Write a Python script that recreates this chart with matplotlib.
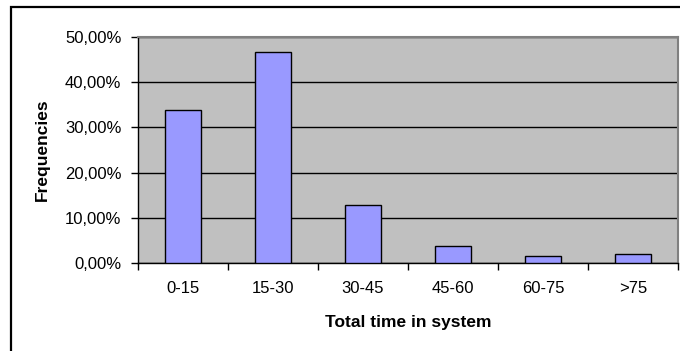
import matplotlib
matplotlib.use("Agg")
import matplotlib.pyplot as plt
from matplotlib.patches import Rectangle
from matplotlib.ticker import FixedLocator, FuncFormatter
import numpy as np

# frequency distribution of total time spent in the system
categories = ["0-15", "15-30", "30-45", "45-60", "60-75", ">75"]
frequencies = [33.8, 46.6, 12.9, 3.7, 1.55, 1.9]   # percent
y_ticks = [0, 10, 20, 30, 40, 50]

plt.rcParams["font.family"] = ["Liberation Sans", "DejaVu Sans"]

fig = plt.figure(figsize=(6.8, 3.51), dpi=100)
ax = fig.add_axes([138 / 680, 88 / 351, 540 / 680, 226 / 351])

x = np.arange(len(categories))
ax.bar(x, frequencies, width=0.41, color="#9999FF", edgecolor="black",
       linewidth=1.0, zorder=3)

ax.set_facecolor("#C0C0C0")
ax.set_xlim(-0.5, len(categories) - 0.5)
ax.set_ylim(0, 50)

# y axis: percentages with comma decimals, black gridlines
ax.yaxis.set_major_locator(FixedLocator(y_ticks))
ax.yaxis.set_major_formatter(FuncFormatter(lambda v, _: f"{v:.2f}%".replace(".", ",")))
ax.grid(axis="y", color="black", linewidth=1.0, zorder=1)
ax.tick_params(axis="y", direction="out", length=5, width=1, pad=7,
               labelsize=12, color="black")

# x axis: ticks at category boundaries, labels centred on the bars
ax.xaxis.set_major_locator(FixedLocator(np.arange(len(categories) + 1) - 0.5))
ax.xaxis.set_major_formatter(FuncFormatter(lambda v, _: ""))
ax.xaxis.set_minor_locator(FixedLocator(x))
ax.set_xticklabels(categories, minor=True)
ax.tick_params(axis="x", which="major", direction="out", length=5, width=1,
               color="black")
ax.tick_params(axis="x", which="minor", length=0, pad=13, labelsize=12)

for side in ("left", "bottom"):
    ax.spines[side].set_color("black")
    ax.spines[side].set_linewidth(1.0)
for side in ("top", "right"):
    ax.spines[side].set_color("#808080")
    ax.spines[side].set_linewidth(1.5)

ax.set_ylabel("Frequencies", fontsize=12.5, fontweight="bold", labelpad=11)
ax.set_xlabel("Total time in system", fontsize=12.5, fontweight="bold",
              labelpad=14)

# chart frame
fig.patches.append(Rectangle((11 / 680, -0.1), 1.2, (351 - 7) / 351 + 0.1,
                             transform=fig.transFigure, fill=False,
                             edgecolor="black", linewidth=1.6))

fig.savefig("out.png", dpi=100)
